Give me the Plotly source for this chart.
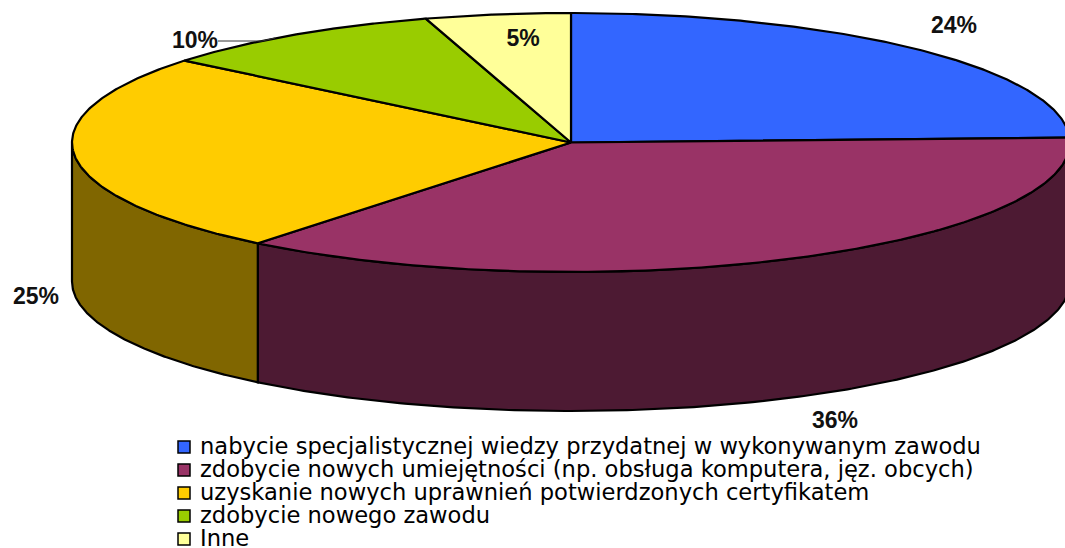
import numpy as np
import plotly.graph_objects as go

categories = [
    "nabycie specjalistycznej wiedzy przydatnej w wykonywanym zawodu",
    "zdobycie nowych umiejętności (np. obsługa komputera, jęz. obcych)",
    "uzyskanie nowych uprawnień potwierdzonych certyfikatem",
    "zdobycie nowego zawodu",
    "Inne",
]
values = [24.4, 36.4, 25.1, 9.4, 4.7]
value_labels = ["24%", "36%", "25%", "10%", "5%"]
top_colors = ["#3366FF", "#993366", "#FFCC00", "#99CC00", "#FFFF99"]
side_colors = ["#1A3380", "#4D1A33", "#806600", "#4D6600", "#808050"]

LABEL_X = [954, 835, 36, 195, 523]
LABEL_Y = [27, 422, 298, 42, 40]
CX, CY, RX, RY, DEPTH = 571, 142.5, 499, 129.5, 139
LEGEND_Y = [447, 470, 493, 516, 539]
LEGEND_SWATCH_X, LEGEND_TEXT_X = 184, 199


def ell(theta):
    return CX + RX * np.sin(theta), CY - RY * np.cos(theta)


fig = go.Figure()
edges = np.radians(np.cumsum([0] + values) * 3.6)

# side walls (front half only)
for i, v in enumerate(values):
    a = max(edges[i], np.pi / 2)
    b = min(edges[i + 1], 3 * np.pi / 2)
    if b <= a:
        continue
    t = np.linspace(a, b, 200)
    x, y = ell(t)
    fig.add_trace(go.Scatter(
        x=np.r_[x, x[::-1], x[0]], y=np.r_[y, y[::-1] + DEPTH, y[0]],
        mode="lines", fill="toself", fillcolor=side_colors[i],
        line=dict(color="black", width=2.2), hoverinfo="skip", showlegend=False))

# top faces
for i, v in enumerate(values):
    t = np.linspace(edges[i], edges[i + 1], 200)
    x, y = ell(t)
    fig.add_trace(go.Scatter(
        x=np.r_[CX, x, CX], y=np.r_[CY, y, CY],
        mode="lines", fill="toself", fillcolor=top_colors[i],
        line=dict(color="black", width=2.2), name=categories[i],
        hoverinfo="name", showlegend=False))

# leader line for the 10% label
fig.add_trace(go.Scatter(x=[218, 262, 275], y=[41, 41, 38], mode="lines",
                         line=dict(color="#333333", width=1),
                         hoverinfo="skip", showlegend=False))

# data labels
fig.add_trace(go.Scatter(
    x=LABEL_X, y=LABEL_Y, mode="text", text=value_labels,
    textposition="middle center",
    textfont=dict(family="Liberation Sans", size=23, color="#111111", weight="bold"),
    hoverinfo="skip", showlegend=False, cliponaxis=False))

# legend
fig.add_trace(go.Scatter(
    x=[LEGEND_SWATCH_X] * 5, y=LEGEND_Y, mode="markers",
    marker=dict(symbol="square", size=12, color=top_colors,
                line=dict(color="black", width=1.5)),
    hoverinfo="skip", showlegend=False))
for name, ly in zip(categories, LEGEND_Y):
    fig.add_annotation(x=LEGEND_TEXT_X, y=ly - 1, text=name, xanchor="left", yanchor="middle",
                       showarrow=False, borderpad=0, xref="x", yref="y",
                       font=dict(family="DejaVu Sans", size=22.6, color="black"))

fig.update_layout(
    width=1065, height=548, autosize=False,
    margin=dict(l=0, r=0, t=0, b=0),
    paper_bgcolor="white", plot_bgcolor="white", showlegend=False,
    xaxis=dict(range=[0, 1065], visible=False, fixedrange=True),
    yaxis=dict(range=[548, 0], visible=False, fixedrange=True),
)
fig.write_html("out.html", config={"displayModeBar": False},
               post_script="document.body.style.margin='0';document.documentElement.style.overflow='hidden';")
